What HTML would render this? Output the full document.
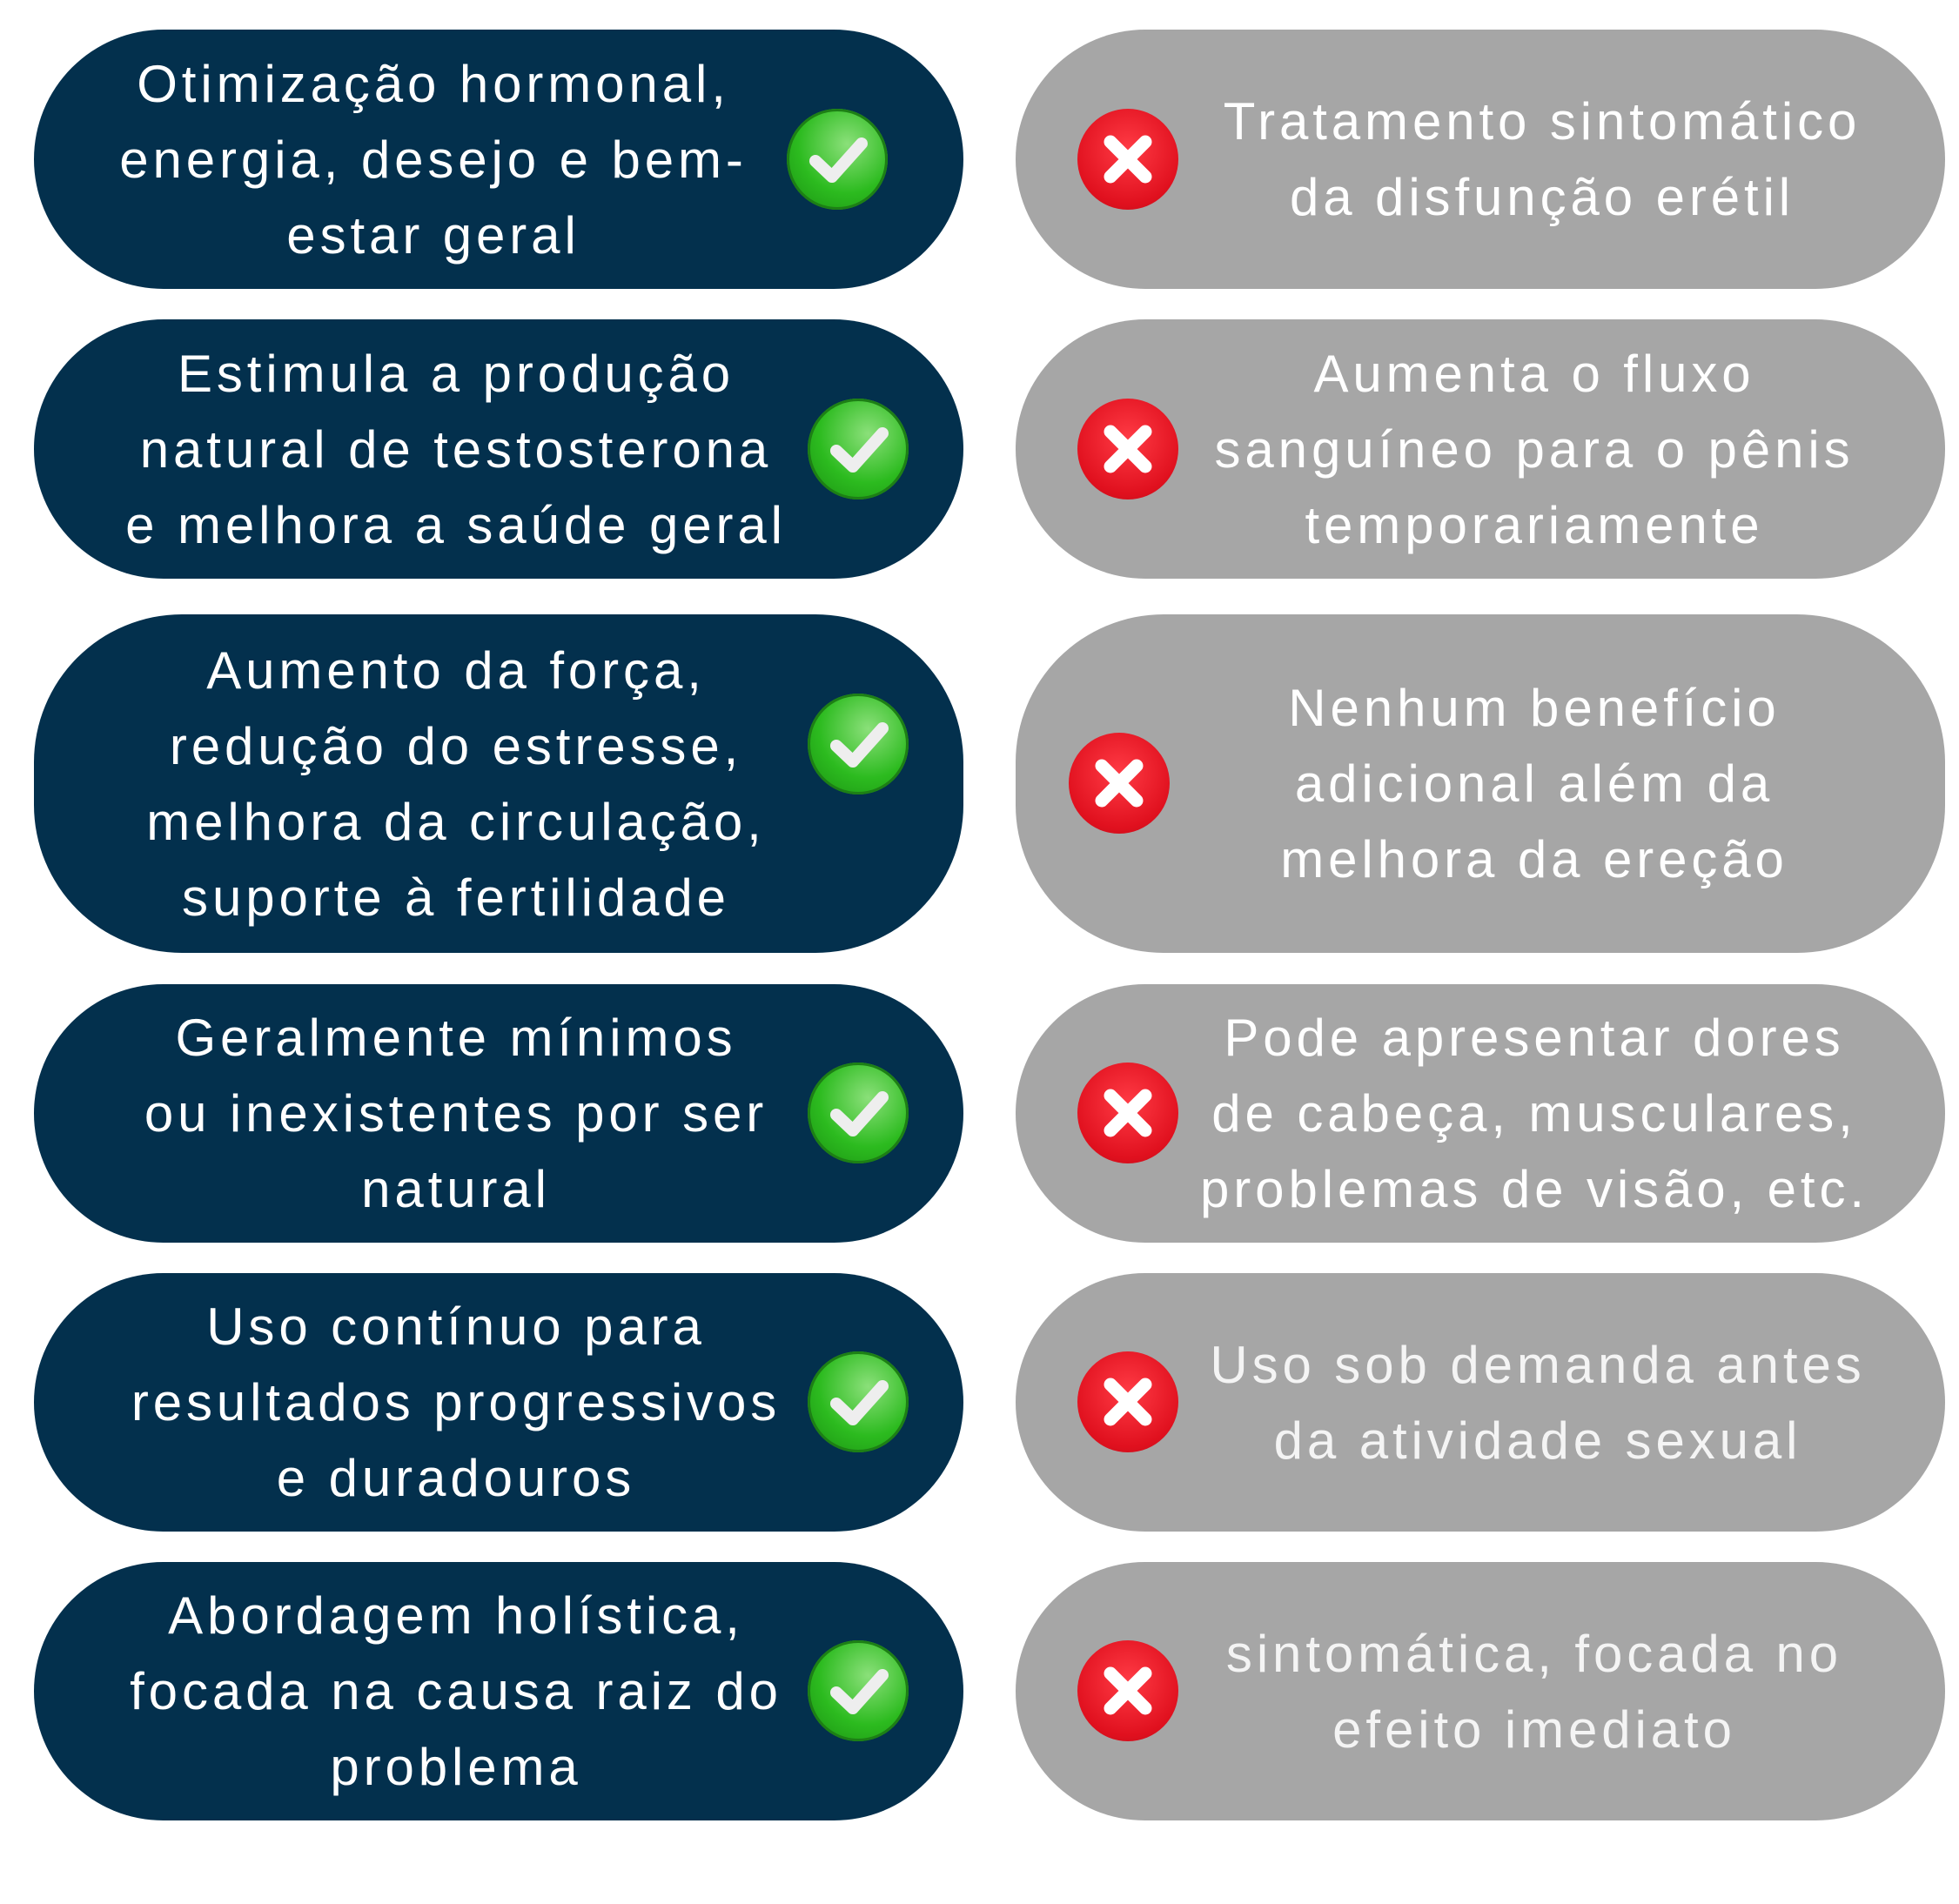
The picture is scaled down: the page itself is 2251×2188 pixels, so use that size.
<!DOCTYPE html>
<html><head><meta charset="utf-8"><style>
body{margin:0;width:2251px;height:2188px;background:#fff;position:relative;overflow:hidden;font-family:"Liberation Sans",sans-serif}
.p{position:absolute;border-radius:150px}
.l{left:39px;width:1068px;background:#03304d}
.r{left:1167px;width:1068px;background:#a6a6a6}
.t{position:absolute;color:#fff;font-size:60px;line-height:87px;text-align:center;display:flex;align-items:center;justify-content:center;letter-spacing:4.9px;transform:translateX(-50%);white-space:nowrap}
.ic{position:absolute;width:116px;height:116px;border-radius:50%}
.ok{background:radial-gradient(circle at 60% 35%,#8be07a,#2cbb1f 55%,#1a8f12);box-shadow:0 0 0 3px #1d7f15 inset}
.no{background:radial-gradient(circle at 50% 40%,#ff3b45,#e0101e 70%,#b80c18)}
.ic svg{position:absolute;left:0;top:0}
</style></head><body>
<div class="p l" style="top:34px;height:298px"></div>
<div class="p l" style="top:367px;height:298px"></div>
<div class="p l" style="top:706px;height:389px;border-radius:170px"></div>
<div class="p l" style="top:1131px;height:297px"></div>
<div class="p l" style="top:1463px;height:297px"></div>
<div class="p l" style="top:1795px;height:297px"></div>
<div class="p r" style="top:34px;height:298px"></div>
<div class="p r" style="top:367px;height:298px"></div>
<div class="p r" style="top:706px;height:389px;border-radius:170px"></div>
<div class="p r" style="top:1131px;height:297px"></div>
<div class="p r" style="top:1463px;height:297px"></div>
<div class="p r" style="top:1795px;height:297px"></div>

<div class="t" style="left:498px;top:34px;height:298px">Otimização hormonal,<br>energia, desejo e bem-<br>estar geral</div>
<div class="t" style="left:524px;top:367px;height:298px">Estimula a produção<br>natural de testosterona<br>e melhora a saúde geral</div>
<div class="t" style="left:524px;top:706px;height:389px">Aumento da força,<br>redução do estresse,<br>melhora da circulação,<br>suporte à fertilidade</div>
<div class="t" style="left:524px;top:1131px;height:297px">Geralmente mínimos<br>ou inexistentes por ser<br>natural</div>
<div class="t" style="left:524px;top:1463px;height:297px">Uso contínuo para<br>resultados progressivos<br>e duradouros</div>
<div class="t" style="left:524px;top:1795px;height:297px">Abordagem holística,<br>focada na causa raiz do<br>problema</div>

<div class="t" style="left:1772px;top:34px;height:298px">Tratamento sintomático<br>da disfunção erétil</div>
<div class="t" style="left:1763px;top:367px;height:298px">Aumenta o fluxo<br>sanguíneo para o pênis<br>temporariamente</div>
<div class="t" style="left:1763px;top:706px;height:389px">Nenhum benefício<br>adicional além da<br>melhora da ereção</div>
<div class="t" style="left:1763px;top:1131px;height:297px">Pode apresentar dores<br>de cabeça, musculares,<br>problemas de visão, etc.</div>
<div class="t" style="left:1767px;top:1463px;height:297px;color:#f4f4f4">Uso sob demanda antes<br>da atividade sexual</div>
<div class="t" style="left:1763px;top:1795px;height:297px;color:#f4f4f4">sintomática, focada no<br>efeito imediato</div>

<div class="ic ok" style="left:904px;top:125px"><svg width="116" height="116"><path d="M33 60 L52 78 L86 40" stroke="#eee" stroke-width="14" fill="none" stroke-linecap="round" stroke-linejoin="round"/></svg></div>
<div class="ic ok" style="left:928px;top:458px"><svg width="116" height="116"><path d="M33 60 L52 78 L86 40" stroke="#eee" stroke-width="14" fill="none" stroke-linecap="round" stroke-linejoin="round"/></svg></div>
<div class="ic ok" style="left:928px;top:797px"><svg width="116" height="116"><path d="M33 60 L52 78 L86 40" stroke="#eee" stroke-width="14" fill="none" stroke-linecap="round" stroke-linejoin="round"/></svg></div>
<div class="ic ok" style="left:928px;top:1221px"><svg width="116" height="116"><path d="M33 60 L52 78 L86 40" stroke="#eee" stroke-width="14" fill="none" stroke-linecap="round" stroke-linejoin="round"/></svg></div>
<div class="ic ok" style="left:928px;top:1553px"><svg width="116" height="116"><path d="M33 60 L52 78 L86 40" stroke="#eee" stroke-width="14" fill="none" stroke-linecap="round" stroke-linejoin="round"/></svg></div>
<div class="ic ok" style="left:928px;top:1885px"><svg width="116" height="116"><path d="M33 60 L52 78 L86 40" stroke="#eee" stroke-width="14" fill="none" stroke-linecap="round" stroke-linejoin="round"/></svg></div>

<div class="ic no" style="left:1238px;top:125px"><svg width="116" height="116"><path d="M38 38 L78 78 M78 38 L38 78" stroke="#fff" stroke-width="15" stroke-linecap="round"/></svg></div>
<div class="ic no" style="left:1238px;top:458px"><svg width="116" height="116"><path d="M38 38 L78 78 M78 38 L38 78" stroke="#fff" stroke-width="15" stroke-linecap="round"/></svg></div>
<div class="ic no" style="left:1228px;top:842px"><svg width="116" height="116"><path d="M38 38 L78 78 M78 38 L38 78" stroke="#fff" stroke-width="15" stroke-linecap="round"/></svg></div>
<div class="ic no" style="left:1238px;top:1221px"><svg width="116" height="116"><path d="M38 38 L78 78 M78 38 L38 78" stroke="#fff" stroke-width="15" stroke-linecap="round"/></svg></div>
<div class="ic no" style="left:1238px;top:1553px"><svg width="116" height="116"><path d="M38 38 L78 78 M78 38 L38 78" stroke="#fff" stroke-width="15" stroke-linecap="round"/></svg></div>
<div class="ic no" style="left:1238px;top:1885px"><svg width="116" height="116"><path d="M38 38 L78 78 M78 38 L38 78" stroke="#fff" stroke-width="15" stroke-linecap="round"/></svg></div>
</body></html>
